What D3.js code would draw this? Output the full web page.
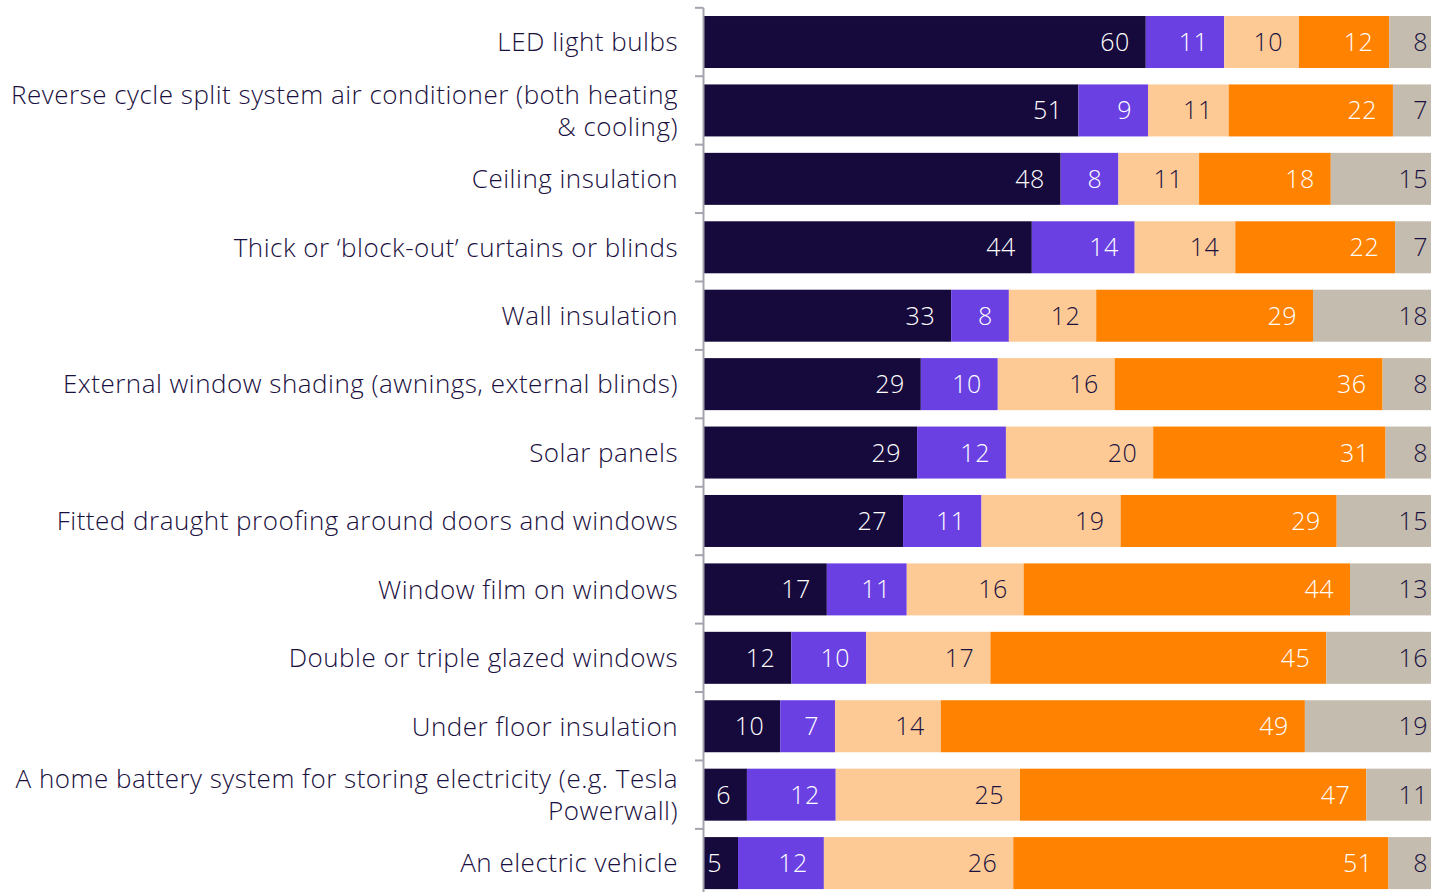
<!DOCTYPE html>
<html>
<head>
<meta charset="utf-8">
<script src="https://cdn.jsdelivr.net/npm/d3@7"></script>
<style>
  html, body { margin: 0; padding: 0; background: #fff; overflow: hidden; }
  svg { display: block; font-family: "Open Sans", "Noto Sans", sans-serif; font-weight: 300; }
</style>
</head>
<body>
<svg id="chart" width="1431" height="892"></svg>
<script>
const categories = [
  "LED light bulbs",
  "Reverse cycle split system air conditioner (both heating\n& cooling)",
  "Ceiling insulation",
  "Thick or \u2018block-out\u2019 curtains or blinds",
  "Wall insulation",
  "External window shading (awnings, external blinds)",
  "Solar panels",
  "Fitted draught proofing around doors and windows",
  "Window film on windows",
  "Double or triple glazed windows",
  "Under floor insulation",
  "A home battery system for storing electricity (e.g. Tesla\nPowerwall)",
  "An electric vehicle"
];
const seriesNames = ["s1", "s2", "s3", "s4", "s5"];
// values (labels show the rounded values)
const s1 = [59.7, 50.6, 48.2, 44.3, 33.4, 29.3, 28.8, 26.9, 16.6, 11.8, 10.3, 5.8, 4.6];
const s2 = [10.6, 9.4, 7.8, 13.9, 7.8, 10.4, 12.0, 10.6, 10.8, 10.1, 7.4, 12.0, 11.6];
const s3 = [10.1, 10.9, 10.9, 13.6, 11.8, 15.8, 19.9, 18.8, 15.8, 16.8, 14.3, 24.9, 25.6];
const s4 = [12.2, 22.2, 17.8, 21.6, 29.3, 36.2, 31.4, 29.2, 44.1, 45.4, 49.2, 46.8, 50.7];
const s5 = [7.6, 6.9, 15.3, 6.6, 17.7, 8.3, 7.9, 14.6, 12.7, 15.9, 18.8, 10.6, 7.6];
const colors = ["#160a3c", "#6a40e2", "#fdca96", "#ff8200", "#c4bcae"];
const labelColors = ["#ffffff", "#ffffff", "#1a1040", "#ffffff", "#1a1040"];

const W = 1431, H = 892;
const rows = categories.map((c, i) => ({cat: c, s1: s1[i], s2: s2[i], s3: s3[i], s4: s4[i], s5: s5[i]}));
const stack = d3.stack().keys(seriesNames)(rows);

const x = d3.scaleLinear().domain([0, 100]).range([704, 1444]);
const y = d3.scaleBand().domain(categories).range([7.8, 897.3]).paddingInner(0.24).paddingOuter(0.12);

const svg = d3.select("#chart");

const layers = svg.append("g").selectAll("g").data(stack).join("g")
  .attr("fill", (d, i) => colors[i]);
layers.selectAll("rect").data(d => d).join("rect")
  .attr("x", d => x(d[0]))
  .attr("y", d => y(d.data.cat))
  .attr("width", d => x(d[1]) - x(d[0]))
  .attr("height", y.bandwidth());

// value labels
stack.forEach((layer, li) => {
  svg.append("g").selectAll("text").data(layer).join("text")
    .attr("x", d => Math.min(x(d[1]), W + 13) - 16)
    .attr("y", d => y(d.data.cat) + y.bandwidth() / 2)
    .attr("dy", "0.36em")
    .attr("text-anchor", "end")
    .attr("fill", labelColors[li])
    .attr("font-size", 25)
    .attr("letter-spacing", 0.5)
    .text(d => Math.round(d[1] - d[0]));
});

// axis
const step = y.step();
const gap = step * y.paddingInner() / 2;
const ax = svg.append("g").attr("stroke", "#a4a3ad").attr("stroke-width", 2);
ax.append("line").attr("x1", 703.5).attr("x2", 703.5)
  .attr("y1", y(categories[0]) - gap).attr("y2", H);
ax.selectAll(".tk").data(categories).join("line")
  .attr("x1", 695).attr("x2", 703.5)
  .attr("y1", d => y(d) - gap).attr("y2", d => y(d) - gap);

// category labels
const lab = svg.append("g").selectAll("text").data(categories).join("text")
  .attr("text-anchor", "end")
  .attr("fill", "#1a1040")
  .attr("font-size", 26)
  .attr("letter-spacing", 0.5);
lab.each(function(d) {
  const lines = d.split("\n");
  const cy = y(d) + y.bandwidth() / 2;
  const lh = 32.5;
  const t = d3.select(this);
  lines.forEach((ln, k) => {
    t.append("tspan")
      .attr("x", 678)
      .attr("y", cy + (k - (lines.length - 1) / 2) * lh)
      .attr("dy", "0.36em")
      .text(ln);
  });
});
</script>
</body>
</html>
